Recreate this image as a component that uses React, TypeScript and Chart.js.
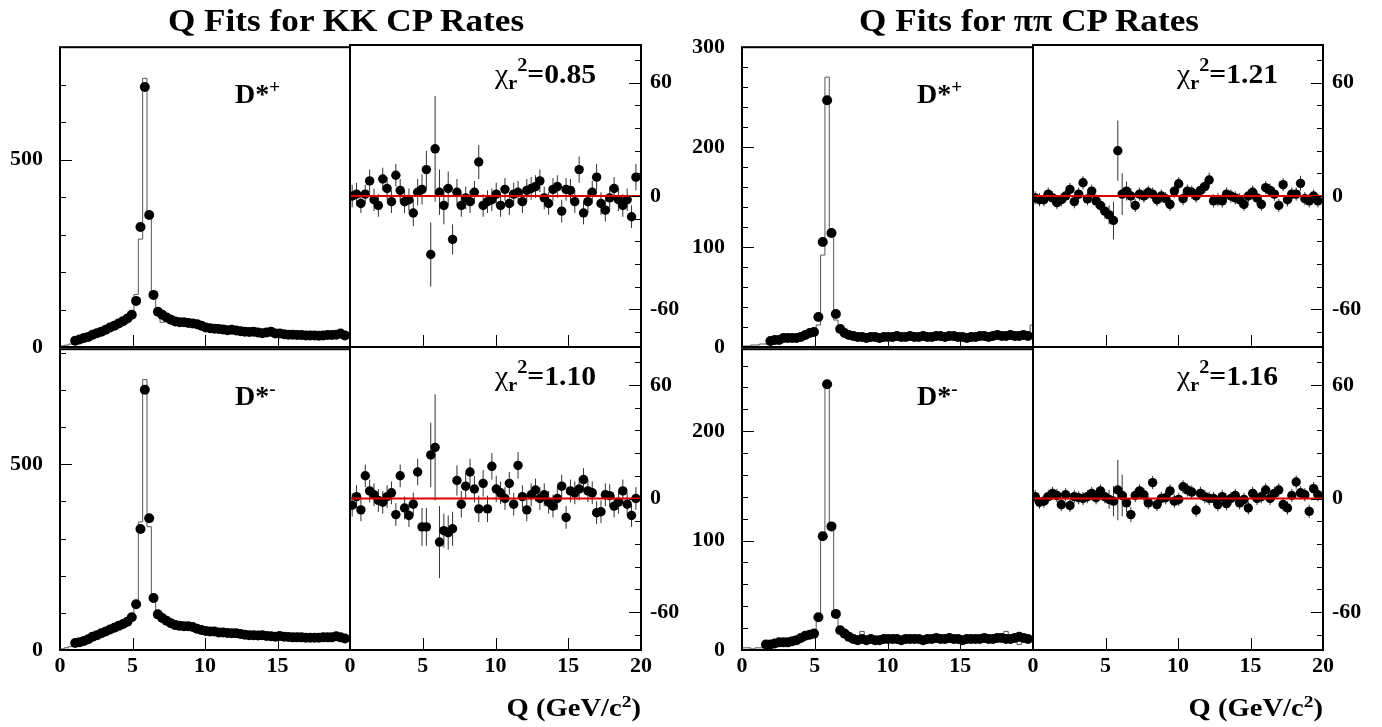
import React, { useEffect, useRef } from 'react';
import { Chart, registerables } from 'chart.js';
Chart.register(...registerables);

const FONT = '"Liberation Serif", "Times New Roman", Times, serif';

// ---------- data ----------
const binWidth = 0.3;
const binCenters = [0.15,0.45,0.75,1.05,1.35,1.65,1.95,2.25,2.55,2.85,3.15,3.45,3.75,4.05,4.35,4.65,4.95,5.25,5.55,5.85,6.15,6.45,6.75,7.05,7.35,7.65,7.95,8.25,8.55,8.85,9.15,9.45,9.75,10.05,10.35,10.65,10.95,11.25,11.55,11.85,12.15,12.45,12.75,13.05,13.35,13.65,13.95,14.25,14.55,14.85,15.15,15.45,15.75,16.05,16.35,16.65,16.95,17.25,17.55,17.85,18.15,18.45,18.75,19.05,19.35,19.65,19.95];

const kkPlusCounts = [null,null,null,17,20,24,27,33,37,41, 46,52,57,63,69,76,86,123,320,694, 352,139,94,86,79,73,68,66,66,64, 63,61,57,52,50,49,48,47,45,46, 44,42,41,40,41,39,37,39,41,36, 36,34,33,33,32,32,31,31,31,30, 31,32,32,33,36,31,null];
const kkPlusFit = [3,5,8,15,19,23,28,32,37,42, 47,52,57,63,69,76,88,140,288,717, 354,142,90,66,78,73,69,66,65,64, 63,60,56,53,50,49,48,47,46,45, 44,43,41,40,40,39,38,39,39,37, 36,35,34,33,32,32,31,31,31,31, 31,32,32,33,34,32,32];
const kkPlusResid = [0,1,-4,1,8,-2,-5,9,4,-3, 11,3,-3,-2,-9,2,3.5,14,-31,25, 2,-5,4,-23,2,-5,-1,-3,2,18, -5,-3,-2,1,-5,3.5,-4,1,2,-3, 3,4,5,8,-1,-4,3.5,5,-8,3.5, 3,-3,14,-9,-3,2,10,-4,-7.5,-1, 4,-2,-5,-2,-11,10,null];
const kkPlusErr = [6,6,5,5,6,6,6,6,6,6, 6,6,6,6,7,7,8,10,17,28, 12,10,9,8,7,6,6,6,6,9, 6,6,6,6,6,6,6,6,6,6, 6,6,6,6,6,6,6,6,6,6, 6,6,7,6,6,6,7,6,6,6, 6,6,6,6,6,7,null];

const kkMinusCounts = [null,null,null,19,21,24,29,36,40,45, 50,55,60,65,70,76,88,123,326,701, 355,140,96,86,79,72,67,65,64,64, 62,57,54,51,50,50,47,47,46,45, 45,43,41,40,40,39,40,38,37,36, 38,36,35,34,34,34,33,33,33,33, 34,34,34,37,34,31,null];
const kkMinusFit = [3,6,9,17,21,25,30,35,40,45, 50,55,60,65,71,77,90,125,345,728, 332,130,92,84,78,72,68,66,64,63, 61,58,55,52,50,49,48,47,46,45, 44,43,42,41,40,39,39,38,37,37, 37,36,35,35,34,34,34,33,33,33, 33,34,34,35,34,33,33];
const kkMinusResid = [-3.5,1,-6,12,4,2,-1,-2,1,3, -8.5,12,-5,-9,-3,14,-15,-15,23,27, -23,-17,-18,-16,9.5,-3,6.5,14,5,-5.5, 8,-5.5,17,5,3,0,8,-3,17.5,1, -6,2,4.5,0,2,-2,-4,0,6.5,-10, 4,3,5,10,4,3,-7.5,-7,2,1.5, -4,-2,4,-3,-9,0,null];
const kkMinusErr = [6,6,6,6,6,6,6,6,6,6, 6,6,6,6,6,7,10,10,17,28, 19,9,9,9,8,7,7,7,7,7, 7,7,7,7,6,6,6,6,7,6, 6,6,6,6,6,6,6,6,6,6, 6,6,6,6,6,6,6,6,6,6, 6,6,6,6,6,6,null];

const pipiPlusCounts = [null,null,null,null,null,null,6,7,7,9, 9,9,9,10,12,14,15,30,105,247, 114,33,18,14,12,11,10,10,9,10, 10,9,10,10,10,11,10,10,11,10, 10,11,10,10,11,11,10,11,11,10, 10,9,10,10,11,11,10,11,12,11, 11,12,11,11,12,11,null];
const pipiPlusFit = [1,1,2,2,3,3,5,6,7,8, 9,9,10,10,12,13,16,22,92,270, 117,27,16,13,12,11,10,10,10,10, 10,10,10,10,10,10,10,10,11,14, 10,10,10,10,10,10,10,10,10,10, 10,10,10,10,10,10,10,11,11,11, 11,11,11,11,11,11,22];
const pipiPlusResid = [-1,-2,-2,1,-1,-3.5,-2,0,3.5,-3, 1,7,-1.5,2.6,-2.6,-5,-8,-10,-13,24, 1,2.6,0,-5,1,0,2,1,-2,0, -1.4,-4.4,2.6,6.5,-1.4,2.6,2,0,3,5, 8.5,-2.6,-2,-2.6,1,0,-1,-2,-4.4,0, 2,-1,-4.4,4.4,3,1,-5,6,-2,1, 1,6.7,-1.4,-2.6,0,-2.6,null];
const pipiPlusErr = [3.5,3.5,3.5,3.5,3.5,3.5,3.5,3.5,3.5,3.5, 3.5,3.5,3.5,3.5,3.5,3.5,4,5,10,16, 11,5,4,3.5,3.5,3.5,3.5,3.5,3.5,3.5, 3.5,3.5,3.5,3.5,3.5,3.5,3.5,3.5,3.5,3.5, 4,3.5,3.5,3.5,3.5,3.5,3.5,3.5,3.5,3.5, 3.5,3.5,3.5,3.5,3.5,3.5,3.5,3.5,3.5,3.5, 3.5,4,3.5,3.5,3.5,3.5,null];

const pipiMinusCounts = [null,null,null,null,null,5,5,6,7,7, 7,8,9,11,13,14,15,30,104,243, 113,33,18,15,12,10,9,10,9,10, 9,9,10,10,10,10,9,10,10,10, 10,9,10,10,11,10,10,11,10,10, 9,10,10,10,10,11,10,10,11,11, 10,10,11,12,11,10,null];
const pipiMinusFit = [2,2,1,2,2,4,5,6,7,7, 8,8,9,11,13,14,16,28,104,243, 113,30,17,14,12,10,10,17,10,10, 9,9,10,10,10,10,10,10,10,10, 10,10,10,10,10,10,10,10,10,10, 10,10,10,10,10,10,10,10,10,10, 17,10,11,5,11,11,12];
const pipiMinusResid = [1,-2,-1.4,1,2.7,1.6,-3.2,2,-3.7,1, 0.4,0,1,2.7,0.4,4,1,-0.5,-1.4,4.5, 1.6,-2.3,-8.5,1.6,4,2,-2.3,8.4,-3.2,0, 0.4,4,-1.4,-0.5,6.2,4.5,3.4,-6.2,2.7,1, 0,0,-3.2,1,-2.7,0,1.6,-2.3,-0.5,-5, 2.7,0,1,4.5,0,2.7,4.5,-3.2,-5,1.6, 8.7,3,2,-6.8,5.2,2,null];
const pipiMinusErr = [3.5,3.5,3.5,3.5,3.5,3.5,3.5,3.5,3.5,3.5, 3.5,3.5,3.5,3.5,3.5,3.5,3.5,5,8,16, 11,5,4,3.5,3.5,3.5,3.5,3.5,3.5,3.5, 3.5,3.5,3.5,3.5,3.5,3.5,3.5,3.5,3.5,3.5, 3.5,3.5,3.5,3.5,3.5,3.5,3.5,3.5,3.5,3.5, 3.5,3.5,3.5,3.5,3.5,3.5,3.5,3.5,3.5,3.5, 3.5,3.5,3.5,3.5,3.5,3.5,null];

// tick labels
const xTickValues = [0, 5, 10, 15, 20];
const xLabelsLeft = [0, 5, 10, 15];
const xLabelsRight = [0, 5, 10, 15, 20];
const kkCountTicks = [0, 500];
const pipiTopTicks = [0, 100, 200, 300];
const pipiBottomTicks = [0, 100, 200];
const residTicks = [-60, 0, 60];

// ---------- layout ----------
const ML = 70, MR = 70, MT = 28, MB = 40;

type Spec = {
  frame: [number, number, number, number];
  kind: 'count' | 'resid';
  yMin: number; yMax: number;
  yMajor: number[]; yMinor: number;
  showX: boolean; xLabels: number[];
  values: (number | null)[];
  fit?: (number | null)[];
  err?: (number | null)[];
};

const panels: Spec[] = [
  { frame: [60, 350, 45, 347], kind: 'count', yMin: 0, yMax: 800, yMajor: kkCountTicks, yMinor: 100, showX: false, xLabels: [], values: kkPlusCounts, fit: kkPlusFit },
  { frame: [350, 641, 45, 347], kind: 'resid', yMin: -80, yMax: 80, yMajor: residTicks, yMinor: 12, showX: false, xLabels: [], values: kkPlusResid, err: kkPlusErr },
  { frame: [60, 350, 347, 650], kind: 'count', yMin: 0, yMax: 810, yMajor: kkCountTicks, yMinor: 100, showX: true, xLabels: xLabelsLeft, values: kkMinusCounts, fit: kkMinusFit },
  { frame: [350, 641, 347, 650], kind: 'resid', yMin: -80, yMax: 80, yMajor: residTicks, yMinor: 12, showX: true, xLabels: xLabelsRight, values: kkMinusResid, err: kkMinusErr },
  { frame: [742, 1033, 45, 347], kind: 'count', yMin: 0, yMax: 300, yMajor: pipiTopTicks, yMinor: 20, showX: false, xLabels: [], values: pipiPlusCounts, fit: pipiPlusFit },
  { frame: [1033, 1323, 45, 347], kind: 'resid', yMin: -80, yMax: 80, yMajor: residTicks, yMinor: 12, showX: false, xLabels: [], values: pipiPlusResid, err: pipiPlusErr },
  { frame: [742, 1033, 347, 650], kind: 'count', yMin: 0, yMax: 275, yMajor: pipiBottomTicks, yMinor: 20, showX: true, xLabels: xLabelsLeft, values: pipiMinusCounts, fit: pipiMinusFit },
  { frame: [1033, 1323, 347, 650], kind: 'resid', yMin: -80, yMax: 80, yMajor: residTicks, yMinor: 12, showX: true, xLabels: xLabelsRight, values: pipiMinusResid, err: pipiMinusErr },
];

const rootStyle = {
  id: 'rootStyle',
  afterDatasetsDraw(chart: any, _a: any, opts: any) {
    const { ctx, chartArea: a, scales } = chart;
    const xs = scales.x, ys = scales.y;
    const line = (x1: number, y1: number, x2: number, y2: number) => {
      ctx.beginPath(); ctx.moveTo(x1, y1); ctx.lineTo(x2, y2); ctx.stroke();
    };
    ctx.save();
    ctx.strokeStyle = '#000';
    ctx.lineWidth = 1;
    for (const v of xTickValues) {
      if (v <= xs.min || v >= xs.max) continue;
      const px = Math.round(xs.getPixelForValue(v)) + 0.5;
      line(px, a.bottom, px, a.bottom - 12);
    }
    const left = opts.side === 'left';
    const edge = left ? a.left : a.right;
    const dir = left ? 1 : -1;
    const start = Math.ceil(ys.min / opts.minor) * opts.minor;
    for (let v = start; v <= ys.max; v += opts.minor) {
      if (opts.major.includes(v)) continue;
      const py = Math.round(ys.getPixelForValue(v)) + 0.5;
      line(edge, py, edge + dir * 6, py);
    }
    for (const v of opts.major) {
      const py = Math.round(ys.getPixelForValue(v)) + 0.5;
      line(edge, py, edge + dir * 12, py);
    }
    ctx.lineWidth = 2;
    ctx.strokeRect(a.left, a.top, a.right - a.left, a.bottom - a.top);
    ctx.restore();
  },
};

function buildConfig(p: Spec): any {
  const datasets: any[] = [];
  const pts = binCenters.map((x, i) => ({ x, y: p.values[i] })).filter((d) => d.y !== null);
  if (p.kind === 'count' && p.fit) {
    const half = binWidth / 2;
    const steps: any[] = [{ x: binCenters[0] - half, y: 0 }];
    p.fit.forEach((v, i) => steps.push({ x: binCenters[i] - half, y: v }));
    const last = binCenters.length - 1;
    steps.push({ x: binCenters[last] + half, y: p.fit[last] });
    datasets.push({ type: 'line', data: steps, stepped: 'before', borderColor: '#555', borderWidth: 1, pointRadius: 0, fill: false, order: 3 });
    datasets.push({ type: 'scatter', data: pts, pointRadius: 5, pointBackgroundColor: '#000', pointBorderWidth: 0, order: 1 });
  } else {
    const bars: any[] = [];
    binCenters.forEach((x, i) => {
      const v = p.values[i], e = p.err ? p.err[i] : null;
      if (v === null || e === null) return;
      bars.push({ x, y: v - e }, { x, y: v + e }, { x, y: null });
    });
    datasets.push({ type: 'line', data: bars, borderColor: '#333', borderWidth: 1, pointRadius: 0, spanGaps: false, fill: false, order: 2 });
    datasets.push({ type: 'scatter', data: pts, pointRadius: 4.7, pointBackgroundColor: '#000', pointBorderWidth: 0, order: 1 });
    datasets.push({ type: 'line', data: [{ x: 0, y: 0 }, { x: 20, y: 0 }], borderColor: '#e00000', borderWidth: 2, pointRadius: 0, fill: false, order: 0 });
  }
  const tickFont = { family: FONT, weight: 'bold' as const, size: 22 };
  return {
    type: 'scatter',
    data: { datasets },
    plugins: [rootStyle],
    options: {
      responsive: false,
      animation: false,
      devicePixelRatio: 1,
      events: [],
      layout: {
        autoPadding: false,
        padding: p.kind === 'count' ? { left: 0, right: MR, top: MT, bottom: 0 } : { left: ML, right: 0, top: MT, bottom: 0 },
      },
      plugins: {
        legend: { display: false },
        tooltip: { enabled: false },
        rootStyle: { side: p.kind === 'count' ? 'left' : 'right', major: p.yMajor, minor: p.yMinor },
      },
      scales: {
        x: {
          type: 'linear', position: 'bottom', min: 0, max: 20,
          afterBuildTicks: (s: any) => { s.ticks = xTickValues.map((v) => ({ value: v })); },
          afterFit: (s: any) => { s.height = MB; },
          grid: { display: false, drawTicks: false }, border: { display: false },
          ticks: {
            display: p.showX, autoSkip: false, maxRotation: 0, padding: 3, color: '#000', font: tickFont,
            callback: (v: any) => (p.xLabels.includes(Number(v)) ? String(v) : ''),
          },
        },
        y: {
          type: 'linear', position: p.kind === 'count' ? 'left' : 'right', min: p.yMin, max: p.yMax,
          afterBuildTicks: (s: any) => { s.ticks = p.yMajor.map((v) => ({ value: v })); },
          afterFit: (s: any) => { s.width = p.kind === 'count' ? ML : MR; },
          grid: { display: false, drawTicks: false }, border: { display: false },
          ticks: {
            autoSkip: false, padding: p.kind === 'count' ? 17 : 9, color: '#000', font: tickFont,
            callback: (v: any) => String(v),
          },
        },
      },
    },
  };
}

function Panel({ spec }: { spec: Spec }) {
  const ref = useRef<HTMLCanvasElement>(null);
  useEffect(() => {
    const chart = new Chart(ref.current as HTMLCanvasElement, buildConfig(spec));
    return () => chart.destroy();
  }, [spec]);
  const [x0, x1, y0, y1] = spec.frame;
  const w = x1 - x0 + ML + MR;
  const h = y1 - y0 + MT + MB;
  return (
    <canvas ref={ref} width={w} height={h}
      style={{ position: 'absolute', left: x0 - ML, top: y0 - MT, width: w, height: h }} />
  );
}

const txt = (size: number): React.CSSProperties => ({
  position: 'absolute', fontFamily: FONT, fontWeight: 'bold', fontSize: size, lineHeight: `${size}px`,
  whiteSpace: 'nowrap', color: '#000',
});
const sup: React.CSSProperties = { position: 'relative', fontSize: '0.68em', top: '-0.5em' };
const sub: React.CSSProperties = { position: 'relative', fontSize: '0.68em', top: '0.3em' };

function Chi({ left, top, val }: { left: number; top: number; val: string }) {
  return (
    <div style={{ ...txt(27), left, top, transform: 'scaleX(1.1)', transformOrigin: 'left top' }}>
      <span style={{ fontWeight: 'normal' }}>χ</span>
      <span style={sub}>r</span>
      <span style={{ ...sup, top: '-0.65em' }}>2</span>
      <span>={val}</span>
    </div>
  );
}

function DLabel({ left, top, sign }: { left: number; top: number; sign: string }) {
  return (
    <div style={{ ...txt(28), left, top }}>
      D*<span style={sup}>{sign}</span>
    </div>
  );
}

function AxisLabel({ right }: { right: number }) {
  return (
    <div style={{ ...txt(26), left: right, top: 695, transform: 'translateX(-100%) scaleX(1.1)', transformOrigin: 'right top' }}>
      Q (GeV/c<span style={sup}>2</span>)
    </div>
  );
}

export default function App() {
  return (
    <div style={{ position: 'absolute', left: 0, top: 0, width: 1382, height: 727, background: '#fff', overflow: 'hidden' }}>
      {panels.map((p, i) => <Panel key={i} spec={p} />)}
      <div style={{ ...txt(32), left: 346, top: 4, transform: 'translateX(-50%) scaleX(1.1)' }}>Q Fits for KK CP Rates</div>
      <div style={{ ...txt(32), left: 1029, top: 4, transform: 'translateX(-50%) scaleX(1.1)' }}>Q Fits for ππ CP Rates</div>
      <DLabel left={235} top={80} sign="+" />
      <DLabel left={235} top={382} sign="-" />
      <DLabel left={917} top={80} sign="+" />
      <DLabel left={917} top={382} sign="-" />
      <Chi left={495} top={61} val="0.85" />
      <Chi left={495} top={363} val="1.10" />
      <Chi left={1177} top={61} val="1.21" />
      <Chi left={1177} top={363} val="1.16" />
      <AxisLabel right={641} />
      <AxisLabel right={1323} />
    </div>
  );
}
